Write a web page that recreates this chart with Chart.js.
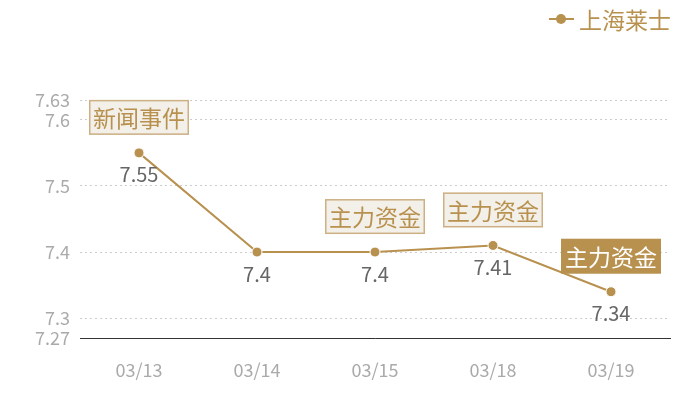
<!DOCTYPE html>
<html>
<head>
<meta charset="utf-8">
<script src="https://cdn.jsdelivr.net/npm/chart.js@4.4.1/dist/chart.umd.min.js"></script>
<style>
  html, body { margin: 0; padding: 0; background: #fff; }
  #wrap { width: 700px; height: 400px; position: relative; }
</style>
</head>
<body>
<div id="wrap"><canvas id="chart"></canvas></div>
<script>
// 上海莱士 price line with event tags

const labels = ["03/13", "03/14", "03/15", "03/18", "03/19"];
const prices = [7.55, 7.4, 7.4, 7.41, 7.34];
const yTicks = [7.27, 7.3, 7.4, 7.5, 7.6, 7.63];
const seriesName = "上海莱士";

// event tags: index into labels, text, filled style
const tagIndex = [0, 2, 3, 4];
const tagText = ["新闻事件", "主力资金", "主力资金", "主力资金"];
const tagFilled = [false, false, false, true];

const GOLD = "#b8914f";
const FONT = "'Noto Sans CJK SC', 'Noto Sans', sans-serif";

const overlay = {
  id: "overlay",
  afterDatasetsDraw(chart) {
    const ctx = chart.ctx;
    const meta = chart.getDatasetMeta(0);

    // value labels under points
    ctx.save();
    ctx.font = "20px " + FONT;
    ctx.fillStyle = "#666";
    ctx.textAlign = "center";
    ctx.textBaseline = "middle";
    meta.data.forEach((pt, i) => {
      ctx.fillText(String(prices[i]), pt.x, pt.y + 22);
    });

    // tags above points
    ctx.font = "23px " + FONT;
    tagIndex.forEach((idx, k) => {
      const pt = meta.data[idx];
      const w = 100, h = 35;
      const x = pt.x - w / 2;
      const y = pt.y - 18 - h;
      if (tagFilled[k]) {
        ctx.fillStyle = GOLD;
        ctx.fillRect(x, y, w, h);
        ctx.fillStyle = "#fff";
      } else {
        ctx.fillStyle = "#f3efe9";
        ctx.fillRect(x, y, w, h);
        ctx.strokeStyle = "#cdb084";
        ctx.lineWidth = 1.5;
        ctx.strokeRect(x + 0.75, y + 0.75, w - 1.5, h - 1.5);
        ctx.fillStyle = GOLD;
      }
      ctx.fillText(tagText[k], pt.x, y + h / 2 + 1);
    });

    // legend top right
    ctx.strokeStyle = GOLD;
    ctx.lineWidth = 2;
    ctx.beginPath();
    ctx.moveTo(549, 19);
    ctx.lineTo(574, 19);
    ctx.stroke();
    ctx.beginPath();
    ctx.arc(561, 19, 5, 0, Math.PI * 2);
    ctx.fillStyle = GOLD;
    ctx.fill();
    ctx.font = "23px " + FONT;
    ctx.textAlign = "left";
    ctx.fillText(seriesName, 579, 20);
    ctx.restore();
  }
};

new Chart(document.getElementById("chart"), {
  type: "line",
  data: {
    labels: labels,
    datasets: [{
      label: seriesName,
      data: prices,
      borderColor: GOLD,
      borderWidth: 2,
      backgroundColor: GOLD,
      pointBackgroundColor: GOLD,
      pointBorderColor: "#fff",
      pointBorderWidth: 1,
      pointRadius: 5,
      tension: 0,
      clip: false
    }]
  },
  options: {
    responsive: true,
    maintainAspectRatio: false,
    animation: false,
    layout: { padding: { top: 100, right: 30, left: 0, bottom: 0 } },
    plugins: {
      legend: { display: false },
      tooltip: { enabled: false }
    },
    scales: {
      x: {
        offset: true,
        grid: { display: false, drawTicks: false, offset: true },
        border: { display: true, color: "#333", width: 1 },
        ticks: { color: "#aaa", font: { size: 18, family: FONT }, padding: 21 },
        afterFit(scale) { scale.height = 62; }
      },
      y: {
        min: 7.27,
        max: 7.63,
        afterBuildTicks(scale) { scale.ticks = yTicks.map(v => ({ value: v })); },
        grid: { color: "#ccc", drawTicks: false, lineWidth: 1 },
        border: { display: false, dash: [2, 3] },
        ticks: {
          color: "#aaa",
          autoSkip: false,
          font: { size: 18, family: FONT },
          padding: 10,
          callback: v => String(v)
        },
        afterFit(scale) { scale.width = 80; }
      }
    }
  },
  plugins: [overlay]
});
</script>
</body>
</html>
